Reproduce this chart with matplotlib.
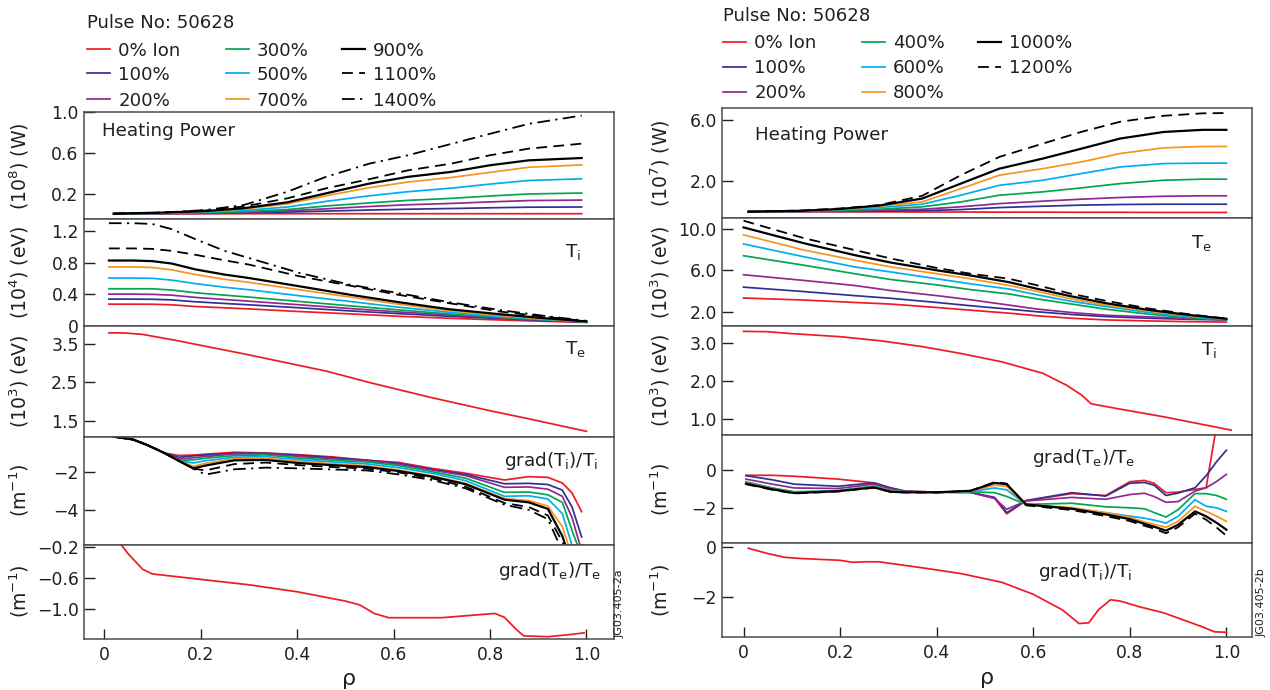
import matplotlib
matplotlib.use('Agg')
import matplotlib.pyplot as plt
from matplotlib.lines import Line2D

plt.rcParams['font.family'] = ['DejaVu Sans']
plt.rcParams['mathtext.fontset'] = 'dejavusans'

W, H = 1270, 690
INK = '#231f20'
FRAME = '#4d4d4d'

# ---------------- pulse 50628, left set (ion heating scan) ----------------
labels_l = ['0% Ion', '100%', '200%', '300%', '500%', '700%', '900%', '1100%', '1400%']

rho_pw_l = [0.02, 0.12, 0.21, 0.29, 0.38, 0.46, 0.55, 0.63, 0.72, 0.80, 0.88, 0.99]
power_l = [
    [0.003, 0.003, 0.003, 0.004, 0.004, 0.004, 0.004, 0.004, 0.004, 0.004, 0.004, 0.004],
    [0.004, 0.006, 0.008, 0.012, 0.020, 0.030, 0.040, 0.048, 0.055, 0.062, 0.068, 0.070],
    [0.004, 0.007, 0.011, 0.018, 0.032, 0.052, 0.075, 0.092, 0.105, 0.120, 0.133, 0.138],
    [0.004, 0.008, 0.014, 0.024, 0.045, 0.080, 0.110, 0.135, 0.155, 0.178, 0.198, 0.207],
    [0.004, 0.010, 0.020, 0.035, 0.070, 0.125, 0.180, 0.220, 0.255, 0.295, 0.330, 0.347],
    [0.004, 0.013, 0.027, 0.050, 0.100, 0.180, 0.260, 0.315, 0.360, 0.410, 0.460, 0.483],
    [0.004, 0.015, 0.030, 0.058, 0.116, 0.204, 0.300, 0.366, 0.415, 0.480, 0.528, 0.551],
    [0.004, 0.015, 0.035, 0.075, 0.155, 0.253, 0.343, 0.430, 0.496, 0.578, 0.643, 0.692],
    [0.004, 0.015, 0.040, 0.090, 0.220, 0.366, 0.496, 0.578, 0.690, 0.789, 0.886, 0.968],
]

rho_ti_l = [0.01, 0.06, 0.10, 0.14, 0.19, 0.25, 0.30, 0.405, 0.51, 0.61, 0.715, 0.82, 0.91, 1.00]
ti_l = [
    [0.276, 0.276, 0.275, 0.268, 0.246, 0.230, 0.216, 0.183, 0.153, 0.123, 0.098, 0.076, 0.060, 0.045],
    [0.340, 0.340, 0.338, 0.330, 0.306, 0.285, 0.268, 0.230, 0.191, 0.157, 0.123, 0.094, 0.070, 0.048],
    [0.403, 0.403, 0.400, 0.390, 0.361, 0.335, 0.314, 0.268, 0.221, 0.178, 0.140, 0.102, 0.075, 0.050],
    [0.471, 0.471, 0.470, 0.455, 0.420, 0.390, 0.366, 0.310, 0.255, 0.204, 0.153, 0.110, 0.080, 0.052],
    [0.607, 0.607, 0.603, 0.580, 0.535, 0.490, 0.459, 0.382, 0.310, 0.238, 0.174, 0.119, 0.085, 0.054],
    [0.747, 0.747, 0.740, 0.710, 0.650, 0.590, 0.552, 0.459, 0.366, 0.276, 0.195, 0.132, 0.090, 0.056],
    [0.828, 0.828, 0.820, 0.790, 0.715, 0.650, 0.607, 0.502, 0.395, 0.302, 0.212, 0.149, 0.100, 0.058],
    [0.981, 0.981, 0.975, 0.950, 0.900, 0.830, 0.777, 0.629, 0.510, 0.395, 0.289, 0.183, 0.120, 0.060],
    [1.300, 1.300, 1.290, 1.225, 1.096, 0.950, 0.860, 0.671, 0.522, 0.416, 0.302, 0.202, 0.130, 0.065],
]

rho_te_l = [0.01, 0.04, 0.08, 0.15, 0.29, 0.46, 0.55, 0.67, 0.80, 0.88, 1.0]
te_l = [3.80, 3.80, 3.76, 3.60, 3.25, 2.80, 2.50, 2.13, 1.76, 1.55, 1.22]

rho_gti_l = [0.02, 0.06, 0.09, 0.125, 0.155, 0.185, 0.21, 0.27, 0.335, 0.405, 0.475,
             0.545, 0.61, 0.68, 0.75, 0.83, 0.88, 0.92, 0.95, 0.97, 0.99]
gti_l = [
    [-0.10, -0.25, -0.55, -0.97, -1.10, -1.08, -1.03, -0.93, -0.97, -1.06, -1.18,
     -1.36, -1.47, -1.79, -2.05, -2.41, -2.23, -2.27, -2.57, -3.10, -4.10],
    [-0.10, -0.25, -0.55, -0.97, -1.20, -1.12, -1.08, -0.98, -0.98, -1.10, -1.22,
     -1.35, -1.52, -1.84, -2.12, -2.61, -2.59, -2.65, -2.95, -3.85, -5.45],
    [-0.10, -0.25, -0.55, -0.97, -1.30, -1.22, -1.16, -1.02, -1.02, -1.15, -1.28,
     -1.38, -1.57, -1.88, -2.18, -2.80, -2.78, -2.90, -3.28, -4.40, -6.20],
    [-0.10, -0.25, -0.55, -0.97, -1.38, -1.33, -1.25, -1.11, -1.07, -1.24, -1.36,
     -1.45, -1.64, -1.97, -2.32, -3.07, -3.05, -3.20, -3.60, -5.10, -6.50],
    [-0.10, -0.25, -0.55, -0.97, -1.39, -1.50, -1.38, -1.20, -1.16, -1.33, -1.45,
     -1.55, -1.75, -2.05, -2.45, -3.28, -3.25, -3.42, -4.20, -5.90, -7.00],
    [-0.10, -0.25, -0.55, -0.97, -1.39, -1.68, -1.52, -1.28, -1.25, -1.42, -1.55,
     -1.65, -1.88, -2.18, -2.59, -3.40, -3.50, -3.80, -4.90, -6.50, -7.00],
    [-0.10, -0.25, -0.55, -0.97, -1.39, -1.79, -1.64, -1.36, -1.34, -1.51, -1.62,
     -1.72, -1.93, -2.23, -2.64, -3.46, -3.60, -3.95, -5.40, -7.00, -7.00],
    [-0.10, -0.25, -0.55, -0.97, -1.39, -1.80, -1.90, -1.56, -1.48, -1.62, -1.72,
     -1.80, -2.00, -2.32, -2.77, -3.64, -3.85, -4.30, -5.70, -7.00, -7.00],
    [-0.10, -0.25, -0.55, -0.97, -1.39, -1.80, -2.12, -1.84, -1.75, -1.79, -1.85,
     -1.90, -2.11, -2.41, -2.86, -3.73, -4.00, -4.50, -6.20, -7.00, -7.00],
]

rho_gte_l = [0.02, 0.035, 0.05, 0.065, 0.08, 0.10, 0.20, 0.30, 0.40, 0.50, 0.53, 0.56, 0.59,
             0.70, 0.81, 0.83, 0.855, 0.87, 0.92, 0.97, 0.995]
gte_l = [-0.02, -0.17, -0.29, -0.39, -0.49, -0.55, -0.62, -0.69, -0.78, -0.90, -0.95, -1.06, -1.115,
         -1.115, -1.06, -1.11, -1.27, -1.35, -1.36, -1.33, -1.31]

# ---------------- pulse 50628, right set (electron heating scan) ----------------
labels_r = ['0% Ion', '100%', '200%', '400%', '600%', '800%', '1000%', '1200%']

rho_pw_r = [0.01, 0.12, 0.20, 0.28, 0.37, 0.45, 0.53, 0.62, 0.70, 0.78, 0.87, 0.95, 1.0]
power_r = [
    [0.00, 0.00, -0.01, -0.01, -0.02, -0.02, -0.03, -0.03, -0.04, -0.04, -0.05, -0.05, -0.05],
    [0.00, 0.01, 0.02, 0.03, 0.07, 0.14, 0.27, 0.36, 0.43, 0.47, 0.49, 0.49, 0.49],
    [0.00, 0.02, 0.05, 0.10, 0.16, 0.32, 0.53, 0.69, 0.82, 0.93, 1.01, 1.04, 1.04],
    [0.00, 0.03, 0.08, 0.16, 0.32, 0.64, 1.08, 1.30, 1.56, 1.84, 2.06, 2.13, 2.13],
    [0.00, 0.04, 0.12, 0.27, 0.49, 1.08, 1.73, 2.06, 2.50, 2.93, 3.15, 3.18, 3.18],
    [0.00, 0.05, 0.15, 0.36, 0.64, 1.51, 2.39, 2.82, 3.26, 3.81, 4.18, 4.27, 4.27],
    [0.00, 0.06, 0.18, 0.40, 0.86, 1.84, 2.82, 3.48, 4.13, 4.79, 5.22, 5.36, 5.36],
    [0.00, 0.08, 0.21, 0.43, 1.04, 2.39, 3.59, 4.46, 5.23, 5.89, 6.28, 6.44, 6.46],
]

rho_te_r = [0.0, 0.125, 0.23, 0.305, 0.40, 0.47, 0.55, 0.61, 0.68, 0.75, 0.84, 0.92, 1.0]
te_r = [
    [3.31, 3.11, 2.88, 2.72, 2.39, 2.13, 1.84, 1.58, 1.35, 1.19, 1.09, 1.02, 0.98],
    [4.36, 3.93, 3.54, 3.28, 2.88, 2.56, 2.23, 1.97, 1.71, 1.51, 1.35, 1.25, 1.18],
    [5.56, 5.01, 4.52, 4.03, 3.54, 3.14, 2.62, 2.23, 1.90, 1.64, 1.48, 1.32, 1.20],
    [7.40, 6.48, 5.66, 5.10, 4.58, 4.12, 3.70, 3.21, 2.72, 2.23, 1.74, 1.42, 1.22],
    [8.54, 7.30, 6.32, 5.83, 5.17, 4.68, 4.18, 3.60, 2.98, 2.49, 1.90, 1.52, 1.25],
    [9.42, 7.95, 6.97, 6.32, 5.66, 5.17, 4.52, 3.93, 3.21, 2.62, 2.05, 1.62, 1.28],
    [10.14, 8.61, 7.46, 6.74, 5.99, 5.49, 4.84, 4.18, 3.46, 2.81, 2.15, 1.68, 1.30],
    [10.79, 9.10, 7.95, 7.13, 6.22, 5.66, 5.17, 4.52, 3.70, 3.04, 2.29, 1.75, 1.32],
]

rho_ti_r = [0.0, 0.05, 0.10, 0.20, 0.285, 0.37, 0.45, 0.535, 0.62, 0.67, 0.70, 0.72,
            0.78, 0.87, 0.95, 1.01]
ti_r = [3.30, 3.29, 3.24, 3.16, 3.05, 2.90, 2.72, 2.50, 2.20, 1.88, 1.63, 1.40,
        1.26, 1.06, 0.86, 0.71]

rho_gte_r = [0.005, 0.06, 0.105, 0.195, 0.27, 0.305, 0.335, 0.40, 0.47, 0.52, 0.545, 0.585,
             0.68, 0.75, 0.80, 0.83, 0.85, 0.875, 0.90, 0.935, 0.958, 0.98, 1.0]
gte_r = [
    [-0.28, -0.28, -0.33, -0.48, -0.68, -0.95, -1.12, -1.17, -1.18, -1.50, -2.32, -1.62,
     -1.25, -1.35, -0.62, -0.55, -0.70, -1.20, -1.17, -1.03, -0.94, 2.40, 4.50],
    [-0.30, -0.52, -0.75, -0.86, -0.68, -0.95, -1.12, -1.17, -1.18, -1.45, -2.26, -1.62,
     -1.20, -1.38, -0.70, -0.66, -0.80, -1.35, -1.22, -0.94, -0.30, 0.45, 1.05],
    [-0.48, -0.75, -0.95, -0.98, -0.75, -1.00, -1.14, -1.18, -1.19, -1.50, -2.08, -1.64,
     -1.45, -1.55, -1.30, -1.23, -1.40, -1.71, -1.67, -1.12, -0.94, -0.60, -0.23],
    [-0.62, -0.95, -1.15, -1.10, -0.85, -1.08, -1.15, -1.18, -1.15, -1.20, -1.40, -1.82,
     -1.76, -1.95, -2.00, -2.05, -2.25, -2.49, -2.10, -1.25, -1.25, -1.35, -1.55],
    [-0.65, -0.98, -1.18, -1.10, -0.88, -1.10, -1.16, -1.18, -1.14, -0.95, -1.05, -1.82,
     -2.05, -2.26, -2.44, -2.55, -2.65, -2.81, -2.45, -1.57, -1.92, -2.00, -2.19],
    [-0.68, -1.00, -1.20, -1.12, -0.90, -1.12, -1.17, -1.18, -1.12, -0.80, -0.86, -1.82,
     -1.99, -2.26, -2.50, -2.75, -2.88, -3.03, -2.72, -1.92, -2.19, -2.45, -2.72],
    [-0.72, -1.02, -1.22, -1.12, -0.92, -1.15, -1.18, -1.18, -1.10, -0.68, -0.75, -1.82,
     -2.05, -2.35, -2.60, -2.85, -3.00, -3.21, -2.90, -2.19, -2.45, -2.80, -3.16],
    [-0.75, -1.05, -1.24, -1.14, -0.94, -1.16, -1.19, -1.19, -1.10, -0.64, -0.72, -1.87,
     -2.12, -2.44, -2.70, -2.95, -3.10, -3.35, -3.03, -2.31, -2.63, -3.05, -3.48],
]

rho_gti_r = [0.01, 0.05, 0.085, 0.12, 0.20, 0.225, 0.25, 0.28, 0.37, 0.45, 0.535, 0.60,
             0.66, 0.695, 0.715, 0.735, 0.76, 0.78, 0.82, 0.87, 0.91, 0.95, 0.975, 1.0]
gti_r = [-0.04, -0.25, -0.40, -0.45, -0.52, -0.60, -0.58, -0.58, -0.82, -1.05, -1.40, -1.88,
         -2.50, -3.05, -3.02, -2.50, -2.10, -2.15, -2.38, -2.62, -2.90, -3.18, -3.38, -3.40]

rho_ticks = [0, 0.2, 0.4, 0.6, 0.8, 1.0]
rho_ticklabels = ['0', '0.2', '0.4', '0.6', '0.8', '1.0']

# line styles, in legend order
colors = ['#ed1c24', '#2e3192', '#92278f', '#00a651', '#00aeef', '#f7941d', 'black', 'black', 'black']
dashes = ['-', '-', '-', '-', '-', '-', '-', (0, (6, 3.5)), (0, (7, 3, 1.2, 3))]
widths = [1.25, 1.25, 1.25, 1.25, 1.25, 1.25, 1.6, 1.3, 1.3]
styles = [dict(color=c, linestyle=d, linewidth=w) for c, d, w in zip(colors, dashes, widths)]

TICK_FS = 12.4
LABEL_FS = 13.6
TAG_FS = 13.2
LEG_FS = 13.1


def add_panel(fig, xs, ys, xlim, ylim, yticks, ylabel, ylabel_x, bottom=False):
    ax = fig.add_axes([xs[0] / W, 1 - ys[1] / H, (xs[1] - xs[0]) / W, (ys[1] - ys[0]) / H])
    ax.set_xlim(*xlim)
    ax.set_ylim(*ylim)
    ax.set_yticks([t for t, _ in yticks], [s for _, s in yticks])
    ax.tick_params(axis='y', direction='in', length=8, width=1.0, color=INK,
                   labelcolor=INK, labelsize=TICK_FS, pad=4, right=False)
    if bottom:
        ax.set_xticks(rho_ticks, rho_ticklabels)
        ax.tick_params(axis='x', direction='in', length=7, width=1.0, color=INK,
                       labelcolor=INK, labelsize=TICK_FS, pad=5, top=False)
        ax.set_xlabel('ρ', fontsize=16, color=INK, labelpad=4)
    else:
        ax.set_xticks([])
    for sp in ax.spines.values():
        sp.set_color(FRAME)
        sp.set_linewidth(1.1)
    ax.set_ylabel(ylabel, fontsize=LABEL_FS, color=INK)
    ax.yaxis.set_label_coords(ylabel_x, 0.5)
    return ax


def tag(ax, x, y, s, ha='left'):
    ax.text(x, y, s, transform=ax.transAxes, fontsize=TAG_FS, color=INK, ha=ha, va='baseline')


def legend_block(fig, labels, title_pos, col_x, row_y):
    fig.text(title_pos[0] / W, 1 - title_pos[1] / H, 'Pulse No: 50628', fontsize=LEG_FS,
             color=INK, ha='left', va='baseline')
    for i, lab in enumerate(labels):
        c, r = divmod(i, 3)
        x0, y = col_x[c], row_y[r]
        fig.add_artist(Line2D([x0 / W, (x0 + 23) / W], [1 - y / H, 1 - y / H],
                              transform=fig.transFigure, **styles[i]))
        fig.text((x0 + 31) / W, 1 - (y + 6.5) / H, lab, fontsize=LEG_FS, color=INK,
                 ha='left', va='baseline')


fig = plt.figure(figsize=(W / 100, H / 100), dpi=100)

sup = lambda p: r'(10$\mathregular{^%s}$)' % p
per_m = r'(m$\mathregular{^{-1}}$)'

# left column of panels
lx = (84.3, 613.5)
lxlim = (-0.041, 1.056)
lrows = [(112.3, 219), (219, 326), (326, 436.7), (436.7, 544.5), (544.5, 638.7)]
lab_x = -0.1

ax = add_panel(fig, lx, lrows[0], lxlim, (-0.048, 1.0), [(0.2, '0.2'), (0.6, '0.6'), (1.0, '1.0')],
               sup(8) + ' (W)', lab_x)
for vals, st in zip(power_l, styles):
    ax.plot(rho_pw_l, vals, **st)
tag(ax, 0.033, 0.778, 'Heating Power')

ax = add_panel(fig, lx, lrows[1], lxlim, (0, 1.353),
               [(0, '0'), (0.4, '0.4'), (0.8, '0.8'), (1.2, '1.2')], sup(4) + ' (eV)', lab_x)
for vals, st in zip(ti_l, styles):
    ax.plot(rho_ti_l, vals, **st)
tag(ax, 0.909, 0.648, r'T$\mathregular{_i}$')

ax = add_panel(fig, lx, lrows[2], lxlim, (1.08, 3.98),
               [(1.5, '1.5'), (2.5, '2.5'), (3.5, '3.5')], sup(3) + ' (eV)', lab_x)
ax.plot(rho_te_l, te_l, **styles[0])
tag(ax, 0.909, 0.744, r'T$\mathregular{_e}$')

ax = add_panel(fig, lx, lrows[3], lxlim, (-5.85, -0.1),
               [(-2, '\u22122'), (-4, '\u22124')], per_m, lab_x)
for vals, st in zip(gti_l, styles):
    ax.plot(rho_gti_l, vals, **st)
tag(ax, 0.97, 0.728, r'grad(T$\mathregular{_i}$)/T$\mathregular{_i}$', ha='right')

ax = add_panel(fig, lx, lrows[4], lxlim, (-1.386, -0.17),
               [(-0.2, '\u22120.2'), (-0.6, '\u22120.6'), (-1.0, '\u22121.0')], per_m, lab_x,
               bottom=True)
ax.plot(rho_gte_l, gte_l, **styles[0])
tag(ax, 0.977, 0.669, r'grad(T$\mathregular{_e}$)/T$\mathregular{_e}$', ha='right')

# right column of panels
rx = (722.3, 1251.5)
rxlim = (-0.044, 1.052)
rrows = [(108.3, 217.5), (217.5, 326), (326, 434.7), (434.7, 543.3), (543.3, 637.3)]
rab_x = -0.095

ax = add_panel(fig, rx, rrows[0], rxlim, (-0.38, 6.77), [(2.0, '2.0'), (6.0, '6.0')],
               sup(7) + ' (W)', rab_x)
for vals, st in zip(power_r, styles):
    ax.plot(rho_pw_r, vals, **st)
tag(ax, 0.061, 0.71, 'Heating Power')

ax = add_panel(fig, rx, rrows[1], rxlim, (0.6, 11.1),
               [(2.0, '2.0'), (6.0, '6.0'), (10.0, '10.0')], sup(3) + ' (eV)', rab_x)
for vals, st in zip(te_r, styles):
    ax.plot(rho_te_r, vals, **st)
tag(ax, 0.885, 0.722, r'T$\mathregular{_e}$')

ax = add_panel(fig, rx, rrows[2], rxlim, (0.59, 3.44),
               [(1.0, '1.0'), (2.0, '2.0'), (3.0, '3.0')], sup(3) + ' (eV)', rab_x)
ax.plot(rho_ti_r, ti_r, **styles[0])
tag(ax, 0.904, 0.733, r'T$\mathregular{_i}$')

ax = add_panel(fig, rx, rrows[3], rxlim, (-3.88, 1.87), [(0, '0'), (-2, '\u22122')], per_m, rab_x)
for vals, st in zip(gte_r, styles):
    ax.plot(rho_gte_r, vals, **st)
tag(ax, 0.585, 0.742, r'grad(T$\mathregular{_e}$)/T$\mathregular{_e}$')

ax = add_panel(fig, rx, rrows[4], rxlim, (-3.6, 0.16), [(0, '0'), (-2, '\u22122')], per_m, rab_x,
               bottom=True)
ax.plot(rho_gti_r, gti_r, **styles[0])
tag(ax, 0.596, 0.645, r'grad(T$\mathregular{_i}$)/T$\mathregular{_i}$')

# legends above each column
legend_block(fig, labels_l, (86.7, 28.3), (87.3, 226, 341.7), (49, 73.3, 99))
legend_block(fig, labels_r, (722.7, 20.7), (723.3, 861.7, 978.3), (41.7, 66.7, 91.7))

fig.text(620 / W, 1 - 604 / H, 'JG03.405-2a', rotation=90, fontsize=8, color=INK,
         ha='center', va='center')
fig.text(1262 / W, 1 - 603 / H, 'JG03.405-2b', rotation=90, fontsize=8, color=INK,
         ha='center', va='center')

fig.savefig('out.png', dpi=100)
